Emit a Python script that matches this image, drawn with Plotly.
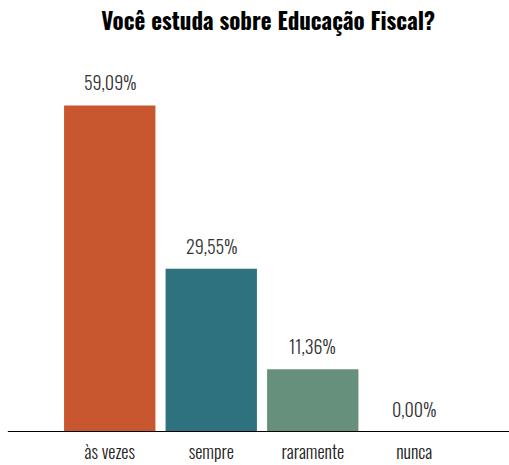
import plotly.graph_objects as go

categories = ["às vezes", "sempre", "raramente", "nunca"]
values = [59.09, 29.55, 11.36, 0.00]
colors = ["#C8562F", "#2E717F", "#67907C", "#B0B0B0"]
title = "Você estuda sobre Educação Fiscal?"

FONT = "Oswald, 'Liberation Sans Narrow', 'DejaVu Sans Condensed', sans-serif"

labels = [f"{v:.2f}".replace(".", ",") + "%" for v in values]

fig = go.Figure()
fig.add_trace(go.Bar(
    x=categories, y=values, marker=dict(color=colors, line=dict(width=0)),
    hoverinfo="skip",
))
for c, v, t in zip(categories, values, labels):
    fig.add_annotation(x=c, y=v, text=t, showarrow=False, yanchor="middle",
                       yshift=23, font=dict(family=FONT, size=18, color="#333333", weight=300))

fig.add_shape(type="line", xref="paper", yref="y", x0=-0.126, x1=1.3, y0=0, y1=0,
              line=dict(color="black", width=2))

fig.update_layout(
    width=509, height=465,
    margin=dict(l=59, r=44, t=60, b=33),
    paper_bgcolor="white", plot_bgcolor="white",
    bargap=0.1,
    showlegend=False,
    title=dict(text=f"<b>{title}</b>", x=0.527, xanchor="center", y=0.952, yanchor="middle",
               font=dict(family=FONT, size=23, color="black")),
    xaxis=dict(range=[-0.5, 3.5], showgrid=False, zeroline=False, showline=False,
               automargin=False,
               ticks="", tickfont=dict(family=FONT, size=18, color="#222222", weight=300),
               ticklabelstandoff=8),
    yaxis=dict(range=[0, 67.3], visible=False, showgrid=False, zeroline=False,
               automargin=False),
)

fig.write_html("out.html")
